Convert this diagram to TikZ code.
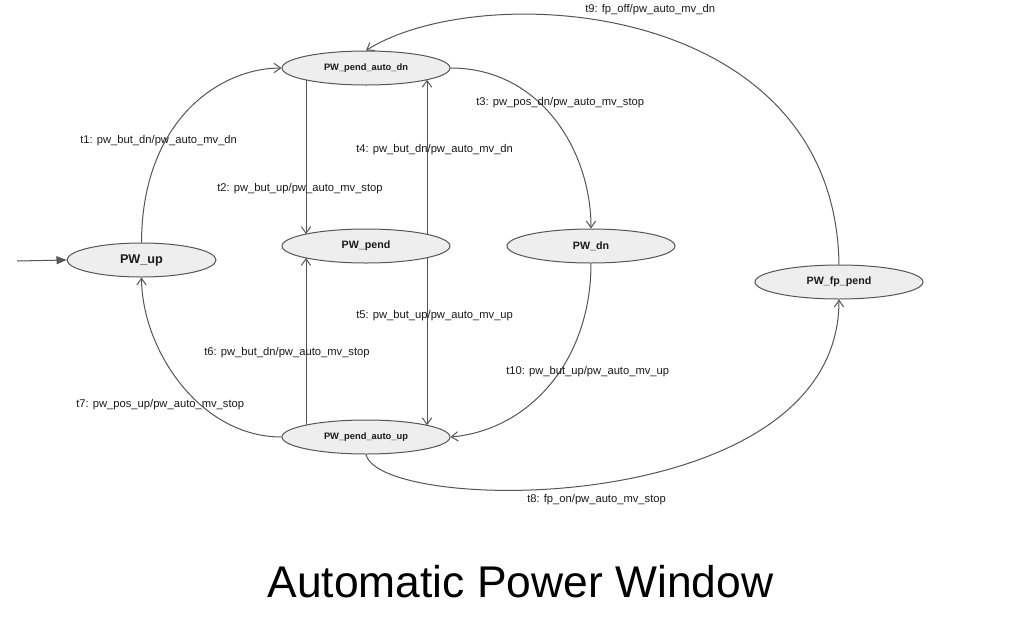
\documentclass[tikz,border=0pt]{standalone}
\usepackage{fontspec}
\setmainfont{Liberation Sans}
\usetikzlibrary{shapes.geometric,arrows.meta,calc}
\definecolor{edgecol}{HTML}{555555}
\definecolor{fillcol}{HTML}{EEEEEE}
\definecolor{txtcol}{HTML}{1A1A1A}
\tikzset{
  state/.style={ellipse, draw=edgecol, fill=fillcol, line width=0.75pt, inner sep=0pt,
    minimum width=126pt, minimum height=25.5pt, text=txtcol, font=\bfseries\fontsize{8}{9}\selectfont},
  smallstate/.style={state, font=\bfseries\fontsize{7}{8}\selectfont},
  bigstate/.style={state, minimum width=111.75pt, font=\bfseries\fontsize{9.5}{11}\selectfont},
  edge/.style={draw=edgecol, line width=0.75pt, -{Straight Barb[length=5pt,width=7pt,line width=0.75pt]}},
  initedge/.style={draw=edgecol, line width=0.75pt, -{Triangle[length=7.5pt,width=6pt]}, fill=edgecol},
  lab/.style={anchor=west, inner sep=0pt, text=txtcol, font=\fontsize{8.4}{10}\selectfont},
  title/.style={anchor=base, inner sep=0pt, text=black, font=\fontsize{33.3}{38}\selectfont}
}
\begin{document}
\begin{tikzpicture}[x=0.75pt, y=-0.75pt]
\useasboundingbox (0,0) rectangle (1026,622);
\fill[white] (0,0) rectangle (1026,622);

\node[smallstate] (pad)  at (366,68)  {PW\_pend\_auto\_dn};
\node[bigstate]   (pwup) at (141.5,260) {PW\_up};
\node[state]      (pend) at (366,246) {PW\_pend};
\node[state]      (pdn)  at (591,246) {PW\_dn};
\node[state]      (fp)   at (839,282) {PW\_fp\_pend};
\node[smallstate] (paup) at (366,437) {PW\_pend\_auto\_up};

\coordinate (init) at (17,261);
\draw[initedge] (init) -- (pwup.west);

% t1
\draw[edge] (pwup.north) .. controls (142,120) and (220,68) .. (pad.west);
% t2 / t4
\draw[edge] ($(pad.center)+(-60,11.9)$) -- ($(pend.center)+(-60,-11.9)$);
\draw[edge] ($(pend.center)+(61,-11.7)$) -- ($(pad.center)+(61,11.7)$);
% t3
\draw[edge] (pad.east) .. controls (540,68) and (591,150) .. (pdn.north);
% t5 / t6
\draw[edge] ($(pend.center)+(61,11.7)$) -- ($(paup.center)+(61,-11.7)$);
\draw[edge] ($(paup.center)+(-60,-11.9)$) -- ($(pend.center)+(-60,11.9)$);
% t7
\draw[edge] (paup.west) .. controls (200,437) and (142,350) .. (pwup.south);
% t10
\draw[edge] (pdn.south) .. controls (591,360) and (530,430) .. (paup.east);
% t8
\draw[edge] (paup.south) .. controls (380,515) and (839,520) .. (fp.south);
% t9
\draw[edge] (fp.north) .. controls (835,-2) and (480,-22) .. (pad.north);

\node[lab] (l1)  at (80,141)  {t1: pw\_but\_dn/pw\_auto\_mv\_dn};
\node[lab] (l2)  at (217,189) {t2: pw\_but\_up/pw\_auto\_mv\_stop};
\node[lab] (l4)  at (356,150) {t4: pw\_but\_dn/pw\_auto\_mv\_dn};
\node[lab] (l3)  at (476,103) {t3: pw\_pos\_dn/pw\_auto\_mv\_stop};
\node[lab] (l5)  at (356,316) {t5: pw\_but\_up/pw\_auto\_mv\_up};
\node[lab] (l6)  at (204,353) {t6: pw\_but\_dn/pw\_auto\_mv\_stop};
\node[lab] (l7)  at (76,405)  {t7: pw\_pos\_up/pw\_auto\_mv\_stop};
\node[lab] (l10) at (506,372) {t10: pw\_but\_up/pw\_auto\_mv\_up};
\node[lab] (l8)  at (527,500) {t8: fp\_on/pw\_auto\_mv\_stop};
\node[lab] (l9)  at (585,10)  {t9: fp\_off/pw\_auto\_mv\_dn};

\node[title] (ttl) at (520.5,597) {Automatic Power Window};
\end{tikzpicture}
\end{document}
